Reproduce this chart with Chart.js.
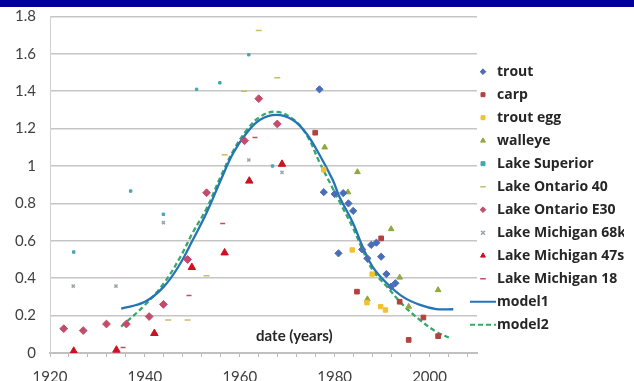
<!DOCTYPE html>
<html>
<head>
<meta charset="utf-8">
<script src="https://cdn.jsdelivr.net/npm/chart.js@4.4.1/dist/chart.umd.min.js"></script>
<style>
  html, body { margin: 0; padding: 0; background: #fff; }
  #faixa { width: 634px; height: 7px; background: #000099; }
  #wrap { width: 634px; height: 374px; position: relative; }
</style>
</head>
<body>
<div id="faixa"></div>
<div id="wrap"><canvas id="grafico"></canvas></div>
<script>
// [year, value] pairs
const trout = [[1976.8, 1.41], [1977.7, 0.86], [1980.0, 0.85], [1981.8, 0.855], [1982.9, 0.80], [1983.9, 0.76],
  [1980.8, 0.533], [1985.8, 0.554], [1986.9, 0.506], [1987.7, 0.578], [1988.8, 0.59], [1989.8, 0.515],
  [1990.9, 0.422], [1991.9, 0.355], [1992.8, 0.373]];
const carp = [[1975.9, 1.178], [1984.7, 0.328], [1989.8, 0.613], [1993.7, 0.274], [1995.6, 0.07], [1998.7, 0.19], [2001.8, 0.09]];
const troutEgg = [[1977.7, 0.98], [1983.7, 0.551], [1986.8, 0.269], [1987.9, 0.422], [1989.7, 0.248], [1990.7, 0.23]];
const walleye = [[1977.9, 1.10], [1982.8, 0.86], [1984.8, 0.968], [1986.9, 0.288], [1991.9, 0.663], [1993.7, 0.404],
  [1995.6, 0.248], [2001.8, 0.337]];
const lakeSuperior = [[1925.0, 0.54], [1937.0, 0.866], [1943.9, 0.742], [1950.9, 1.41], [1955.8, 1.445], [1961.9, 1.595], [1966.9, 1.0]];
const lakeOntario40 = [[1944.9, 0.176], [1949.0, 0.176], [1953.0, 0.413], [1956.8, 1.06], [1960.9, 1.40], [1964.0, 1.724], [1967.9, 1.472]];
const lakeOntarioE30 = [[1922.9, 0.13], [1927.0, 0.12], [1931.9, 0.155], [1936.1, 0.155], [1940.9, 0.195], [1943.9, 0.26],
  [1949.0, 0.50], [1953.0, 0.857], [1961.0, 1.135], [1964.0, 1.36], [1967.9, 1.225]];
const lakeMichigan68k = [[1924.9, 0.358], [1933.9, 0.358], [1943.9, 0.697], [1961.9, 1.032], [1968.9, 0.966]];
const lakeMichigan47s = [[1925.0, 0.01], [1934.0, 0.016], [1942.0, 0.105], [1949.9, 0.458], [1956.8, 0.536], [1962.0, 0.92], [1968.9, 1.01]];
const lakeMichigan18 = [[1935.4, 0.03], [1949.3, 0.307], [1956.4, 0.693], [1963.2, 1.153]];

const model1 = [[1935.0, 0.237], [1940.0, 0.274], [1944.0, 0.355], [1947.5, 0.48], [1950.0, 0.60], [1953.0, 0.75],
  [1956.0, 0.925], [1958.6, 1.068], [1961.4, 1.175], [1964.2, 1.246], [1967.7, 1.273], [1971.2, 1.246],
  [1974.0, 1.175], [1976.8, 1.06], [1979.6, 0.925], [1981.0, 0.836], [1983.9, 0.693], [1985.9, 0.568],
  [1988.0, 0.461], [1991.0, 0.373], [1994.4, 0.30], [1998.0, 0.257], [2001.4, 0.235], [2005.0, 0.234]];
const model2 = [[1935.0, 0.141], [1940.0, 0.257], [1944.0, 0.373], [1947.5, 0.515], [1950.0, 0.64], [1953.0, 0.773],
  [1956.0, 0.945], [1958.6, 1.08], [1961.4, 1.19], [1964.2, 1.262], [1967.5, 1.29], [1971.0, 1.255],
  [1974.0, 1.17], [1976.8, 1.02], [1979.6, 0.88], [1981.0, 0.81], [1983.9, 0.667], [1985.9, 0.551],
  [1988.0, 0.444], [1991.0, 0.355], [1994.4, 0.257], [1998.0, 0.176], [2001.4, 0.114], [2004.6, 0.077]];

const xMin = 1920, xMax = 2010;
const yMin = 0, yMax = 1.8;

const pts = arr => arr.map(p => ({x: p[0], y: p[1]}));

function serie(label, data, cor, estilo, raio, borda) {
    return {
        label: label,
        data: pts(data),
        backgroundColor: cor,
        borderColor: cor,
        pointStyle: estilo,
        pointRadius: raio,
        pointBorderWidth: borda || 1,
        showLine: false
    };
}

function linhaLegenda(cor, tracejado) {
    const c = document.createElement('canvas');
    c.width = 26;
    c.height = 4;
    const g = c.getContext('2d');
    g.strokeStyle = cor;
    g.lineWidth = 2;
    g.setLineDash(tracejado);
    g.beginPath();
    g.moveTo(0, 2);
    g.lineTo(26, 2);
    g.stroke();
    return c;
}

function modelo(label, data, cor, tracejado) {
    return {
        label: label,
        data: pts(data),
        borderColor: cor,
        backgroundColor: cor,
        borderWidth: 2.3,
        borderDash: tracejado,
        pointRadius: 0,
        showLine: true,
        tension: 0.4,
        legendMark: linhaLegenda(cor, tracejado)
    };
}

// "date (years)" sits inside the plot, like the original
const tituloEixo = {
    id: 'tituloEixo',
    afterDatasetsDraw(chart) {
        const {ctx, scales: {x, y}} = chart;
        ctx.save();
        ctx.font = 'bold 15px Lato';
        ctx.fillStyle = '#262626';
        ctx.textAlign = 'center';
        ctx.textBaseline = 'middle';
        ctx.fillText('date (years)', x.getPixelForValue(1971.5), y.getPixelForValue(0.092));
        ctx.restore();
    }
};

// legend overlaps the plot margin a bit in the original
const ajusteLegenda = {
    id: 'ajusteLegenda',
    afterLayout(chart) {
        const lg = chart.legend;
        lg.left -= 10; lg.right -= 10;
        lg.top -= 0.5; lg.bottom -= 0.5;
    }
};

Chart.defaults.font.family = 'Lato';
Chart.defaults.font.size = 15;
Chart.defaults.color = '#404040';

const ctx = document.getElementById('grafico').getContext('2d');

new Chart(ctx, {
    type: 'scatter',
    data: {
        datasets: [
            serie('trout', trout, '#4a6db5', 'rectRot', 3.6),
            serie('carp', carp, '#b5413f', 'rect', 3.3),
            serie('trout egg', troutEgg, '#f2c12e', 'rect', 3.1),
            serie('walleye', walleye, '#8fa83e', 'triangle', 3.3),
            serie('Lake Superior', lakeSuperior, '#45a5b5', 'rect', 1.7),
            serie('Lake Ontario 40', lakeOntario40, '#c8bd6a', 'line', 3, 1.5),
            serie('Lake Ontario E30', lakeOntarioE30, '#c24d6a', 'rectRot', 3.9),
            serie('Lake Michigan 68k', lakeMichigan68k, '#9aa3b0', 'crossRot', 2.2, 1.5),
            serie('Lake Michigan 47s', lakeMichigan47s, '#cc1122', 'triangle', 4.3),
            serie('Lake Michigan 18', lakeMichigan18, '#c0505a', 'line', 2.5, 1.5),
            modelo('model1', model1, '#2474b8', []),
            modelo('model2', model2, '#35a86a', [5, 3])
        ]
    },
    options: {
        responsive: true,
        maintainAspectRatio: false,
        animation: false,
        layout: { padding: { top: 9.4, right: 0, bottom: 0, left: 0 } },
        scales: {
            x: {
                type: 'linear',
                min: xMin,
                max: xMax,
                afterFit(scale) { scale.height = 28; },
                grid: { drawOnChartArea: false, drawTicks: true, tickLength: 4, color: '#b8b8b8' },
                border: { display: true, color: '#c0c0c0', width: 2 },
                ticks: {
                    stepSize: 4,
                    includeBounds: false,
                    autoSkip: false,
                    maxRotation: 0,
                    padding: 11,
                    color: '#404040',
                    callback: v => (v % 20 === 0 && v <= 2000) ? String(v) : ''
                }
            },
            y: {
                min: yMin,
                max: yMax,
                afterFit(scale) {
                    scale.width = 50;
                    scale.paddingTop = 0;
                    scale.paddingBottom = 0;
                },
                grid: { color: '#c6c6c6', lineWidth: 1.5, drawTicks: false },
                border: { display: true, color: '#d0d0d0', width: 1 },
                ticks: {
                    stepSize: 0.2,
                    padding: 14,
                    color: '#404040',
                    callback: v => String(Math.round(v * 10) / 10)
                }
            }
        },
        plugins: {
            tooltip: { enabled: false },
            legend: {
                position: 'right',
                align: 'center',
                maxWidth: 157,
                labels: {
                    usePointStyle: true,
                    boxWidth: 15,
                    boxHeight: 4,
                    padding: 9,
                    color: '#262626',
                    font: { family: 'Open Sans', size: 14, weight: 'bold' },
                    generateLabels: chart => chart.data.datasets.map((ds, i) => ({
                        text: ds.label,
                        fillStyle: ds.backgroundColor,
                        strokeStyle: ds.borderColor,
                        lineWidth: ds.pointBorderWidth || 1,
                        pointStyle: ds.legendMark || ds.pointStyle,
                        fontColor: '#262626',
                        hidden: false,
                        datasetIndex: i
                    }))
                }
            }
        }
    },
    plugins: [tituloEixo, ajusteLegenda]
});
</script>
</body>
</html>
